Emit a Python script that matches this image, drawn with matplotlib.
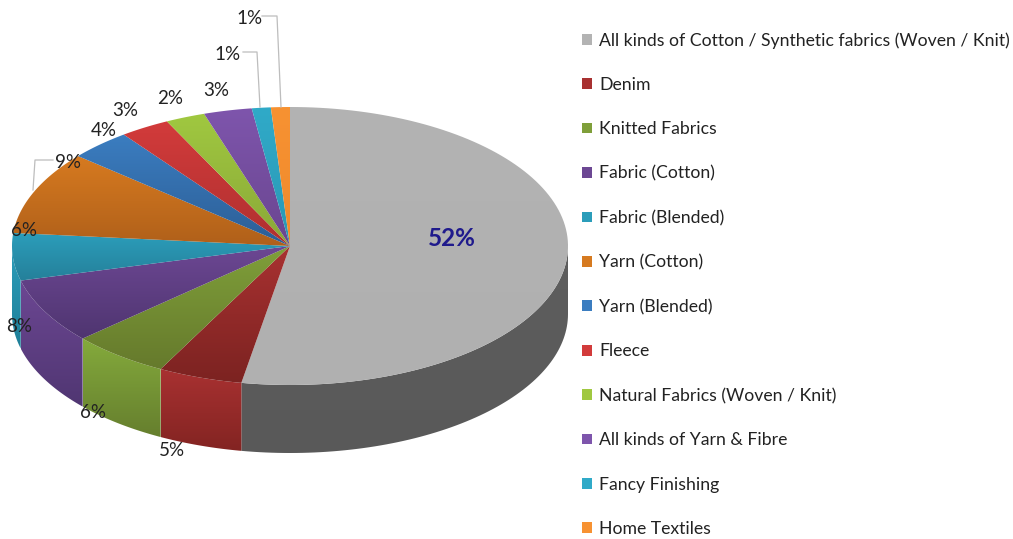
import numpy as np
import matplotlib
matplotlib.use('Agg')
import matplotlib.pyplot as plt
from matplotlib.colors import LinearSegmentedColormap
from matplotlib.patches import Patch, Polygon

categories = ['All kinds of Cotton / Synthetic fabrics (Woven / Knit)', 'Denim', 'Knitted Fabrics',
              'Fabric (Cotton)', 'Fabric (Blended)', 'Yarn (Cotton)', 'Yarn (Blended)', 'Fleece',
              'Natural Fabrics (Woven / Knit)', 'All kinds of Yarn & Fibre', 'Fancy Finishing', 'Home Textiles']
# slice sizes as measured on the picture, printed labels are rounded differently
shares = [52.8, 4.9, 5.7, 7.6, 5.5, 9.7, 3.6, 2.9, 2.3, 2.8, 1.1, 1.1]
pct_labels = ['52%', '5%', '6%', '8%', '6%', '9%', '4%', '3%', '2%', '3%', '1%', '1%']

top_light = ['#B3B3B3', '#A83131', '#7F9F3A', '#6C4793', '#2B9DBA', '#D67A20', '#3B7DC0', '#D23B3B', '#A0C840', '#7E55AC', '#30AAC8', '#F79232']
top_dark = ['#B0B0B0', '#7C2321', '#667A2C', '#4F3570', '#25809A', '#B0601A', '#2C5E96', '#B03030', '#8AA838', '#6A4690', '#2A98B5', '#F08A2C']
side_light = ['#5E5E5E', '#A83131', '#84AA3C', '#6C4793', '#2B9DBA', '#D67A20', '#3B7DC0', '#D23B3B', '#A0C840', '#7E55AC', '#30AAC8', '#F79232']
side_dark = ['#595959', '#832422', '#667F2E', '#503672', '#1F7F98', '#B0601A', '#2C5E96', '#B03030', '#8AA838', '#6A4690', '#2A98B5', '#F08A2C']

cx, cy = 290, 246
rx, ry = 278, 139
depth = 68


def rim(t):
    return cx + rx * np.sin(t), cy - ry * np.cos(t)


def grad_fill(ax, xs, ys, c1, c2):
    # vertical gradient clipped to the polygon
    cmap = LinearSegmentedColormap.from_list('g', [c1, c2])
    im = ax.imshow(np.linspace(0, 1, 64).reshape(-1, 1), cmap=cmap, aspect='auto',
                   extent=[xs.min(), xs.max(), ys.max(), ys.min()], interpolation='bilinear')
    poly = Polygon(np.column_stack([xs, ys]), closed=True, transform=ax.transData)
    im.set_clip_path(poly)


fig = plt.figure(figsize=(10.13, 5.39), dpi=100)
ax = fig.add_axes([0, 0, 1, 1])

edges = np.cumsum([0] + shares) / sum(shares) * 2 * np.pi

# outer wall, only the front half of the pie shows
for i in range(len(shares)):
    a = max(edges[i], np.pi / 2)
    b = min(edges[i + 1], 3 * np.pi / 2)
    if b <= a:
        continue
    t = np.linspace(a, b, 80)
    x, y = rim(t)
    xs = np.r_[x, x[::-1]]
    ys = np.r_[y, y[::-1] + depth]
    grad_fill(ax, xs, ys, side_light[i], side_dark[i])

# top face
for i in range(len(shares)):
    t = np.linspace(edges[i], edges[i + 1], 120)
    x, y = rim(t)
    xs = np.r_[cx, x]
    ys = np.r_[cy, y]
    grad_fill(ax, xs, ys, top_light[i], top_dark[i])

ax.set_xlim(0, 1013)
ax.set_ylim(539, 0)
ax.axis('off')

# leader lines
for lx, ly in [([262, 277, 281], [16, 16, 107]), ([243, 257, 260], [52, 52, 107]), ([53, 35, 33], [160, 160, 190])]:
    ax.plot(lx, ly, color='#BDBDBD', lw=0.9, zorder=5)

label_pos = [(452, 238), (172, 451), (93, 413), (19, 326), (24, 231), (68, 162),
             (104, 131), (125, 110), (170, 99), (216, 91), (228, 55), (249, 18)]
for i, (lab, pos) in enumerate(zip(pct_labels, label_pos)):
    if i == 0:
        ax.text(pos[0], pos[1], lab, ha='center', va='center', fontsize=17.5, fontweight='bold',
                color='#1F1A8C', family='Lato', zorder=6)
    else:
        ax.text(pos[0], pos[1], lab, ha='center', va='center', fontsize=13.5, color='#222222',
                family='Lato', zorder=6)

handles = [Patch(facecolor=c, edgecolor='none') for c in top_light]
leg = ax.legend(handles, categories, loc='upper left', bbox_to_anchor=(582, 32), bbox_transform=ax.transData,
                frameon=False, prop={'family': 'Lato', 'size': 12.7}, labelspacing=1.607, handlelength=0.57,
                handleheight=0.57, handletextpad=0.4, borderpad=0, borderaxespad=0, labelcolor='#222222')

fig.savefig('out.png', dpi=100)
